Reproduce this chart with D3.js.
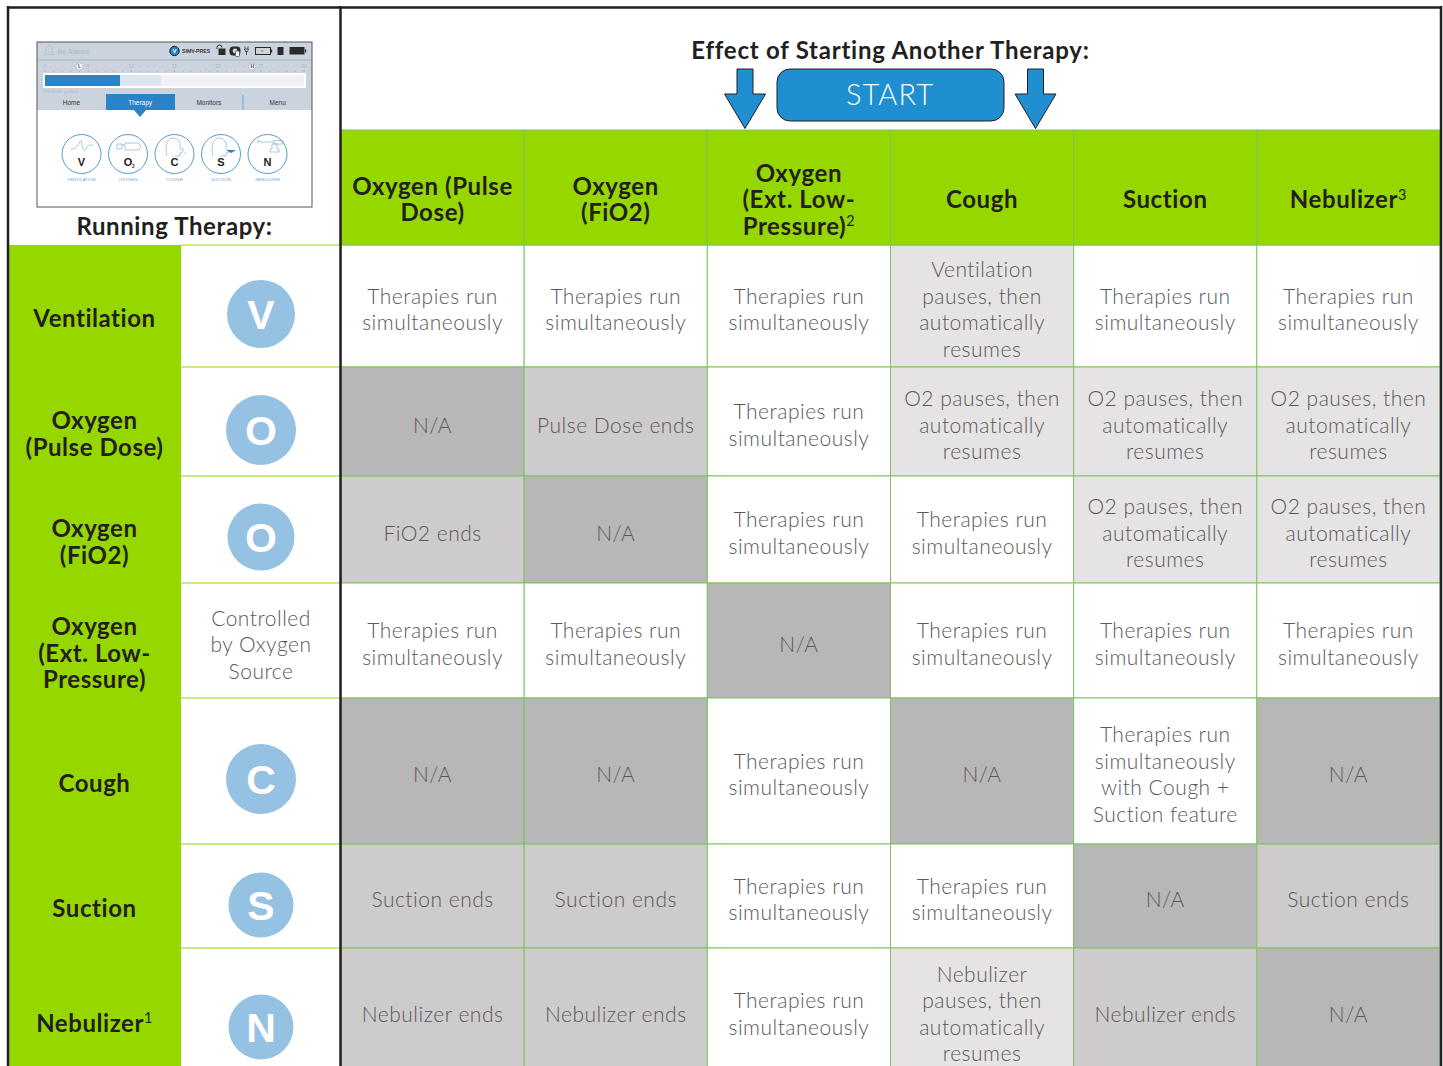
<!DOCTYPE html>
<html>
<head>
<meta charset="utf-8">
<script src="https://cdn.jsdelivr.net/npm/d3@7"></script>
<style>
  html, body { margin: 0; padding: 0; background: #fff; overflow: hidden; }
  svg { display: block; font-family: Lato, sans-serif; }
</style>
</head>
<body>
<div id="chart"></div>
<script>
var svgWidth = 1443;
var svgHeight = 1066;

// therapy being started (columns)
var startTherapies = ["Oxygen (Pulse|Dose)", "Oxygen|(FiO2)", "Oxygen|(Ext. Low-|Pressure)^2", "Cough", "Suction", "Nebulizer^3"];
// therapy already running (rows)
var runTherapies = ["Ventilation", "Oxygen|(Pulse Dose)", "Oxygen|(FiO2)", "Oxygen|(Ext. Low-|Pressure)", "Cough", "Suction", "Nebulizer^1"];
var runIcons = ["V", "O", "O", "", "C", "S", "N"];
var runNotes = ["", "", "", "Controlled|by Oxygen|Source", "", "", ""];

var SIM = "Therapies run|simultaneously";
var PAUSE = "O2 pauses, then|automatically|resumes";
var NA = "N/A";

var row0 = [SIM, SIM, SIM, "Ventilation|pauses, then|automatically|resumes", SIM, SIM];
var row1 = [NA, "Pulse Dose ends", SIM, PAUSE, PAUSE, PAUSE];
var row2 = ["FiO2 ends", NA, SIM, SIM, PAUSE, PAUSE];
var row3 = [SIM, SIM, NA, SIM, SIM, SIM];
var row4 = [NA, NA, SIM, NA, "Therapies run|simultaneously|with Cough +|Suction feature", NA];
var row5 = ["Suction ends", "Suction ends", SIM, SIM, NA, "Suction ends"];
var row6 = ["Nebulizer ends", "Nebulizer ends", SIM, "Nebulizer|pauses, then|automatically|resumes", "Nebulizer ends", NA];
var effects = [row0, row1, row2, row3, row4, row5, row6];

// device screen inset on top left
var screenTabs = ["Home", "Therapy", "Monitors", "Menu"];
var screenIcons = ["V", "O", "C", "S", "N"];
var screenLabels = ["VENTILATION", "OXYGEN", "COUGH", "SUCTION", "NEBULIZER"];
var screenTicks = ["0", "5", "10", "15", "20", "25", "30"];
var gaugeMarks = [4, 24];
var gaugeMarkNames = ["L", "H"];

// layout
var rowEdges = [245, 367, 476, 583, 698, 844, 948, 1073];
var iconRadius = [34, 35, 33.5, 0, 35, 32.5, 32.5];
var iconDy = [8, 8.5, 7.5, 0, 8, 9, 16.5];

var GREEN = "#97d700";
var GRID = "#80c25f";
var INK = "#231f20";
var BODY = "#58595b";
var BLUE = "#1f8fd1";
var LH = 26.5;

var svg = d3.select("#chart").append("svg")
  .attr("width", svgWidth)
  .attr("height", svgHeight);

var xCol = d3.scaleBand().domain(d3.range(startTherapies.length)).range([341, 1440]);
var yRow = d3.scaleOrdinal().domain(d3.range(rowEdges.length)).range(rowEdges);

function cellFill(d) {
  if (d === NA) return "#b7b7b7";
  if (d.indexOf("ends") >= 0) return "#cdcbcc";
  if (d.indexOf("pauses") >= 0) return "#e5e3e4";
  return "#ffffff";
}

// multi line text, "|" breaks the line and "^" marks a superscript
function addLines(g, str, cx, cy, size, weight, color, spacing) {
  var lines = str.split("|");
  var t = g.append("text")
    .attr("text-anchor", "middle")
    .attr("font-size", size)
    .attr("font-weight", weight)
    .attr("letter-spacing", spacing)
    .attr("fill", color);
  lines.forEach(function(line, i) {
    var y = cy + (i - (lines.length - 1) / 2) * LH + size * 0.36;
    var parts = line.split("^");
    t.append("tspan").attr("x", cx).attr("y", y).text(parts[0]);
    if (parts[1]) {
      t.append("tspan").attr("dy", -size * 0.36).attr("font-size", size * 0.6).attr("font-weight", 400).text(parts[1]);
    }
  });
  return t;
}

// ---- body cells
var cells = svg.append("g");
effects.forEach(function(row, r) {
  row.forEach(function(d, c) {
    cells.append("rect")
      .attr("x", xCol(c))
      .attr("y", yRow(r))
      .attr("width", xCol.bandwidth())
      .attr("height", yRow(r + 1) - yRow(r))
      .attr("fill", cellFill(d))
      .attr("stroke", GRID)
      .attr("stroke-width", 1);
    addLines(cells, d, xCol(c) + xCol.bandwidth() / 2, (yRow(r) + yRow(r + 1)) / 2 + 3.5, 21, 300, BODY, 0.5);
  });
});

// ---- column headers
var header = svg.append("g");
startTherapies.forEach(function(d, c) {
  header.append("rect")
    .attr("x", xCol(c))
    .attr("y", 130)
    .attr("width", xCol.bandwidth())
    .attr("height", 115)
    .attr("fill", GREEN)
    .attr("stroke", GRID)
    .attr("stroke-width", 1);
  addLines(header, d, xCol(c) + xCol.bandwidth() / 2, 199.5, 24, 700, INK, 0.6);
});

// ---- row headers and icons
var rowHead = svg.append("g");
rowHead.append("rect").attr("x", 9).attr("y", 245).attr("width", 172).attr("height", svgHeight - 245).attr("fill", GREEN);
runTherapies.forEach(function(d, r) {
  var mid = (yRow(r) + yRow(r + 1)) / 2;
  addLines(rowHead, d, 94.5, mid + 12.5, 24, 700, INK, 0.55);
  rowHead.append("line")
    .attr("x1", 181).attr("x2", 340)
    .attr("y1", yRow(r)).attr("y2", yRow(r))
    .attr("stroke", GREEN).attr("stroke-width", 1);
  if (runIcons[r]) {
    var cy = mid + iconDy[r];
    rowHead.append("circle").attr("cx", 261).attr("cy", cy).attr("r", iconRadius[r]).attr("fill", "#95c1e2");
    rowHead.append("text")
      .attr("x", 261).attr("y", cy + 14.5)
      .attr("text-anchor", "middle")
      .attr("font-family", "Liberation Sans")
      .attr("font-weight", 700)
      .attr("font-size", 41)
      .attr("fill", "#fff")
      .text(runIcons[r]);
  }
  if (runNotes[r]) addLines(rowHead, runNotes[r], 261, mid + 4, 21, 300, BODY, 0.5);
});

// ---- start banner
var banner = svg.append("g");
banner.append("text")
  .attr("x", 890.5).attr("y", 58.5)
  .attr("text-anchor", "middle")
  .attr("font-size", 24).attr("font-weight", 700).attr("letter-spacing", 0.75).attr("fill", INK)
  .text("Effect of Starting Another Therapy:");
banner.append("rect")
  .attr("x", 777).attr("y", 69).attr("width", 227).attr("height", 52).attr("rx", 13)
  .attr("fill", BLUE).attr("stroke", INK).attr("stroke-width", 1);
banner.append("text")
  .attr("x", 890).attr("y", 105)
  .attr("text-anchor", "middle")
  .attr("font-size", 29).attr("font-weight", 300).attr("letter-spacing", 1).attr("fill", "#fff")
  .text("START");
[745, 1035.5].forEach(function(cx) {
  var p = d3.path();
  p.moveTo(cx - 8, 69); p.lineTo(cx + 8, 69); p.lineTo(cx + 8, 94); p.lineTo(cx + 20.5, 94);
  p.lineTo(cx, 128.5); p.lineTo(cx - 20.5, 94); p.lineTo(cx - 8, 94); p.closePath();
  banner.append("path").attr("d", p.toString()).attr("fill", BLUE).attr("stroke", INK).attr("stroke-width", 1);
});

// ---- device screen inset
var SCREEN_BLUE = "#2a82c7";
var SCREEN_BG = "#cbd4de";
var DARK = "#2b2b2b";
var inset = svg.append("g").attr("font-family", "Liberation Sans");
inset.append("rect").attr("x", 37).attr("y", 42).attr("width", 275).attr("height", 165).attr("fill", "#fff");
inset.append("rect").attr("x", 37).attr("y", 42).attr("width", 275).attr("height", 68).attr("fill", SCREEN_BG);
inset.append("line").attr("x1", 37).attr("x2", 312).attr("y1", 60).attr("y2", 60).attr("stroke", "#a9b4bf");
inset.append("text").attr("x", 57.5).attr("y", 54).attr("font-size", 6.5).attr("font-weight", 700).attr("fill", "#b5bec8").text("No Alarms");
inset.append("path").attr("d", "M44 54.5h10l-2-2v-4a3 3 0 0 0-6 0v4z").attr("fill", "none").attr("stroke", "#b5bec8").attr("stroke-width", 0.7);
inset.append("circle").attr("cx", 174.5).attr("cy", 51).attr("r", 4.7).attr("fill", SCREEN_BLUE).attr("stroke", "#123");
inset.append("text").attr("x", 174.5).attr("y", 53.2).attr("text-anchor", "middle").attr("font-size", 6).attr("font-weight", 700).attr("fill", "#fff").text("V");
inset.append("text").attr("x", 182).attr("y", 53).attr("font-size", 5.2).attr("font-weight", 700).attr("fill", "#333").text("SIMV-PRES");

// status icons: lock, touch, plug, two batteries, clipboard
var statusIcons = inset.append("g").attr("fill", "none").attr("stroke", DARK);
statusIcons.append("path").attr("d", "M217 49v-1.5a2.5 2.5 0 0 1 5 0").attr("stroke-width", 1);
statusIcons.append("rect").attr("x", 219).attr("y", 49).attr("width", 6).attr("height", 5.5).attr("fill", DARK);
statusIcons.append("rect").attr("x", 230).attr("y", 47).attr("width", 10).attr("height", 8).attr("rx", 2.5).attr("fill", DARK);
statusIcons.append("circle").attr("cx", 235).attr("cy", 51).attr("r", 2.4).attr("fill", SCREEN_BG).attr("stroke", "none");
statusIcons.append("rect").attr("x", 235.5).attr("y", 51).attr("width", 4).attr("height", 5.5).attr("rx", 1).attr("fill", "#fff").attr("stroke-width", 0.6);
statusIcons.append("path").attr("d", "M245 46.5v2M248 46.5v2M244.5 49h4l-1 2.5h-2zM246.5 51.5v3.5").attr("stroke-width", 0.8);
statusIcons.append("rect").attr("x", 255.5).attr("y", 47.5).attr("width", 15).attr("height", 7).attr("stroke-width", 1);
statusIcons.append("rect").attr("x", 261).attr("y", 50).attr("width", 2.5).attr("height", 2).attr("fill", "#e0b030").attr("stroke", "none");
statusIcons.append("rect").attr("x", 271).attr("y", 49.5).attr("width", 1.2).attr("height", 3).attr("fill", DARK).attr("stroke", "none");
statusIcons.append("rect").attr("x", 277.5).attr("y", 47).attr("width", 6).attr("height", 8).attr("fill", DARK).attr("stroke", "none");
statusIcons.append("rect").attr("x", 289.5).attr("y", 47).attr("width", 15).attr("height", 7.5).attr("fill", DARK).attr("stroke", "none");
statusIcons.append("rect").attr("x", 305).attr("y", 49.5).attr("width", 1.2).attr("height", 3).attr("fill", DARK).attr("stroke", "none");

var xGauge = d3.scaleLinear().domain([0, 30]).range([45, 304]);
d3.range(0, 30.5, 1).forEach(function(v) {
  inset.append("line")
    .attr("x1", xGauge(v)).attr("x2", xGauge(v))
    .attr("y1", v % 5 ? 71 : 70).attr("y2", 72)
    .attr("stroke", "#8a95a0").attr("stroke-width", 0.5);
});
screenTicks.forEach(function(d) {
  inset.append("text").attr("x", xGauge(+d)).attr("y", 68).attr("text-anchor", "middle").attr("font-size", 4.5).attr("fill", "#aeb7c1").text(d);
});
gaugeMarks.forEach(function(d, i) {
  var gx = xGauge(d);
  inset.append("circle").attr("cx", gx).attr("cy", 66.5).attr("r", 3.5).attr("fill", "#fff").attr("stroke", "#8a95a0").attr("stroke-width", 0.5);
  inset.append("text").attr("x", gx).attr("y", 68.3).attr("text-anchor", "middle").attr("font-size", 5).attr("font-weight", 700).attr("fill", "#444").text(gaugeMarkNames[i]);
});
inset.append("rect").attr("x", 43).attr("y", 73).attr("width", 263).attr("height", 15).attr("fill", "#fff");
inset.append("rect").attr("x", 45).attr("y", 75).attr("width", 259).attr("height", 11).attr("fill", "#f0f2f5");
inset.append("rect").attr("x", 120).attr("y", 75).attr("width", 41).attr("height", 11).attr("fill", "#dde5ef");
inset.append("rect").attr("x", 45).attr("y", 75).attr("width", 75).attr("height", 11).attr("fill", SCREEN_BLUE);
inset.append("text").attr("x", 43).attr("y", 93).attr("font-size", 3.6).attr("fill", "#aeb7c1").text("PRESSURE (cmH2O)");

var xTab = d3.scaleBand().domain(screenTabs).range([37, 312]);
inset.append("rect").attr("x", 106).attr("y", 94).attr("width", 69).attr("height", 16).attr("fill", SCREEN_BLUE);
inset.append("line").attr("x1", 243).attr("x2", 243).attr("y1", 95).attr("y2", 110).attr("stroke", "#6fa4d2");
inset.append("path").attr("d", "M134 110h12l-6 7z").attr("fill", SCREEN_BLUE);
screenTabs.forEach(function(d) {
  inset.append("text")
    .attr("x", xTab(d) + xTab.bandwidth() / 2)
    .attr("y", 105)
    .attr("text-anchor", "middle")
    .attr("font-size", 6.5)
    .attr("fill", d === "Therapy" ? "#fff" : "#333")
    .text(d);
});

var xIcon = d3.scalePoint().domain(screenIcons).range([81.5, 267.5]);
screenIcons.forEach(function(d, i) {
  var cx = xIcon(d);
  inset.append("circle").attr("cx", cx).attr("cy", 154).attr("r", 19.5).attr("fill", "#fff").attr("stroke", SCREEN_BLUE).attr("stroke-width", 0.8);
  inset.append("text").attr("x", cx).attr("y", 166).attr("text-anchor", "middle").attr("font-size", 11).attr("font-weight", 700).attr("fill", "#222").text(d);
  inset.append("text").attr("x", cx).attr("y", 180.5).attr("text-anchor", "middle").attr("font-size", 4.4).attr("fill", "#6fa4d2").text(screenLabels[i]);
});
var lineArt = inset.append("g").attr("fill", "none").attr("stroke", "#6fa4d2").attr("stroke-width", 0.6);
lineArt.append("path").attr("d", "M71 149c4 0 5-1 7-4s2-5 3-4 1 8 3 9 2-1 3-3 2-2 6-2");
lineArt.append("path").attr("d", "M117 144h5v5h-5zM122 145h3M125 143h12a2.5 2.5 0 0 1 0 7h-12z");
lineArt.append("path").attr("d", "M167 156c-2-7-1-17 5-18 6 0 9 3 8 10l3 4-3 1v3h-5M182 150l2-2M184 153l2 1");
lineArt.append("path").attr("d", "M213 156c-2-7-1-17 5-18 6 0 9 3 8 10l3 4-3 1v3h-5");
lineArt.append("path").attr("d", "M257 140l3 1.5-3 1.5M260 142h14M274 140.5h9v3.5h-9zM272 144h5v5h2v3h-9v-3h2z");
inset.append("path").attr("d", "M226 150h10l-5 3z").attr("fill", SCREEN_BLUE);
inset.append("text").attr("x", 132).attr("y", 168).attr("font-size", 4.5).attr("font-weight", 700).attr("fill", "#222").text("2");
inset.append("rect").attr("x", 37).attr("y", 42).attr("width", 275).attr("height", 165).attr("fill", "none").attr("stroke", "#555").attr("stroke-width", 1);

svg.append("text")
  .attr("x", 174.5).attr("y", 234.5)
  .attr("text-anchor", "middle")
  .attr("font-size", 24).attr("font-weight", 700).attr("letter-spacing", 0.6).attr("fill", INK)
  .text("Running Therapy:");

// ---- heavy frame lines
var frame = svg.append("g").attr("stroke", INK).attr("fill", "none");
frame.append("line").attr("x1", 7).attr("x2", 1442).attr("y1", 7.5).attr("y2", 7.5).attr("stroke-width", 2.5);
frame.append("line").attr("x1", 8).attr("x2", 8).attr("y1", 6).attr("y2", svgHeight).attr("stroke-width", 2.5);
frame.append("line").attr("x1", 340.5).attr("x2", 340.5).attr("y1", 6).attr("y2", svgHeight).attr("stroke-width", 2.5);
frame.append("line").attr("x1", 1441).attr("x2", 1441).attr("y1", 6).attr("y2", svgHeight).attr("stroke-width", 2.5);
</script>
</body>
</html>
